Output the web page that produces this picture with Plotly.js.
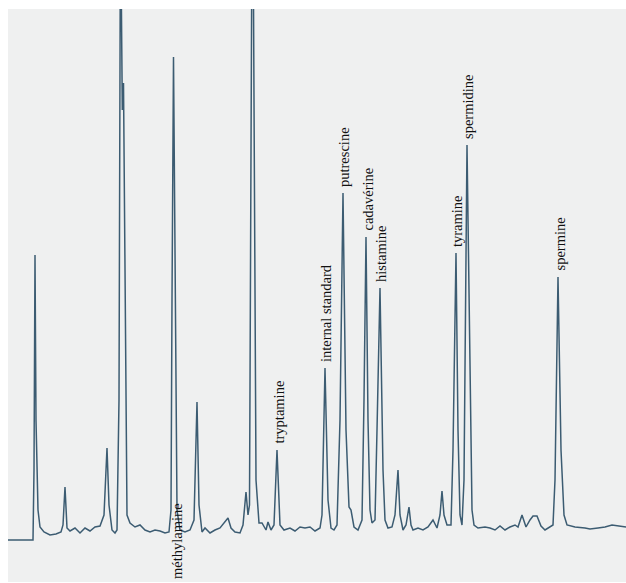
<!DOCTYPE html>
<html>
<head>
<meta charset="utf-8">
<script src="https://cdn.plot.ly/plotly-3.0.1.min.js"></script>
<style>
  html, body { margin: 0; padding: 0; background: #ffffff; }
  #chart { width: 626px; height: 583px; }
</style>
</head>
<body>
<div id="chart"></div>
<script>
// Retention time (min)
const time = [
  0.0, 2.5, 2.6, 2.7, 2.8, 3.0, 3.2, 3.6, 4.2, 4.8, 5.3, 5.5, 5.7, 5.9, 6.2, 6.7, 7.2, 7.7, 8.2, 8.7,
  9.2, 9.6, 9.9, 10.1, 10.4, 10.7, 10.9, 11.1, 11.25, 11.43, 11.55, 11.75, 11.9, 12.2, 12.7, 13.2, 13.7,
  14.2, 14.7, 15.2, 15.7, 16.1, 16.3, 16.4, 16.55, 16.7, 16.9, 17.2, 17.7, 18.2, 18.6, 18.9, 19.1, 19.4,
  19.7, 20.2, 20.7, 21.2, 21.7, 22.0, 22.3, 22.7, 23.2, 23.5, 23.8, 24.0, 24.15, 24.3, 24.45, 24.6, 24.8,
  25.1, 25.4, 25.8, 26.0, 26.3, 26.6, 26.9, 27.2, 27.6, 28.2, 28.7, 29.2, 29.7, 30.2, 30.7, 31.2, 31.4,
  31.7, 32.0, 32.3, 32.6, 32.9, 33.2, 33.5, 33.8, 34.1, 34.3, 34.6, 35.0, 35.4, 35.6, 35.8, 36.0, 36.2,
  36.4, 36.7, 36.9, 37.2, 37.5, 37.7, 38.0, 38.4, 38.7, 39.0, 39.2, 39.5, 39.8, 40.1, 40.3, 40.5, 41.0,
  41.5, 42.0, 42.5, 42.9, 43.2, 43.4, 43.6, 43.9, 44.3, 44.5, 44.8, 45.0, 45.2, 45.4, 45.6, 45.9, 46.2,
  46.4, 46.6, 47.0, 47.7, 48.2, 48.7, 49.2, 49.7, 50.2, 50.7, 51.0, 51.4, 51.8, 52.2, 52.5, 52.9, 53.3,
  53.7, 54.2, 54.5, 54.7, 55.0, 55.3, 55.6, 55.9, 56.7, 57.7, 58.2, 59.0, 59.7, 60.4, 61.0, 61.8
];
// Detector signal (arbitrary units)
const signal = [
  0, 0, 70, 285, 120, 30, 13, 8, 5, 6, 8, 15, 53, 12, 9, 12, 7, 12, 9, 13,
  14, 25, 92, 35, 10, 7, 10, 140, 640, 430, 457, 190, 25, 17, 13, 15, 10,
  8, 10, 9, 7, 8, 30, 240, 483, 290, 30, 10, 8, 10, 20, 138, 35, 8,
  12, 7, 10, 12, 18, 22, 12, 8, 7, 15, 48, 25, 35, 340, 740, 440, 60,
  17, 17, 10, 18, 10, 15, 90, 15, 10, 12, 9, 13, 12, 13, 9, 12, 25,
  172, 40, 12, 10, 15, 120, 347, 110, 33, 30, 13, 10, 20, 140, 303, 120, 30,
  17, 20, 110, 252, 70, 20, 12, 13, 25, 70, 25, 10, 15, 33, 15, 10, 12,
  10, 13, 20, 12, 25, 49, 25, 15, 15, 90, 287, 110, 25, 15, 60, 395, 140,
  30, 15, 12, 13, 12, 10, 14, 10, 13, 15, 13, 25, 13, 20, 24, 24, 14,
  10, 13, 15, 60, 263, 90, 25, 15, 13, 12, 11, 12, 13, 15, 14, 13
];

// Peak labels
const peakNames = ["tryptamine", "internal standard", "putrescine", "cadavérine", "histamine",
                   "tyramine", "spermidine", "spermine"];
const peakTimes = [26.9, 31.7, 33.5, 35.8, 37.2, 44.8, 45.9, 55.0];
const peakHeights = [90, 172, 347, 303, 252, 287, 395, 263];
// Label written below the baseline
const baseLabelName = "méthylamine";
const baseLabelTime = 16.9;
const baseLabelSignal = -1;

const labelFont = { family: "Liberation Serif, Times New Roman, serif", size: 14.5, color: "#111111" };

const annotations = peakNames.map((name, i) => ({
  x: peakTimes[i], y: peakHeights[i], xref: "x", yref: "y",
  text: name, showarrow: false, textangle: -90,
  xanchor: "center", yanchor: "bottom", yshift: 4, xshift: 1,
  font: labelFont
}));
annotations.push({
  x: baseLabelTime, y: baseLabelSignal, xref: "x", yref: "y",
  text: baseLabelName, showarrow: false, textangle: -90,
  xanchor: "center", yanchor: "middle",
  font: labelFont
});

const trace = {
  x: time, y: signal, type: "scatter", mode: "lines",
  line: { color: "#3c5c72", width: 1.5 },
  hoverinfo: "skip"
};

const layout = {
  width: 626, height: 583,
  margin: { l: 8, r: 0, t: 9, b: 1 },
  paper_bgcolor: "#ffffff",
  plot_bgcolor: "#eff0f0",
  showlegend: false,
  xaxis: { range: [0, 61.8], visible: false, fixedrange: true },
  yaxis: { range: [-42, 531], visible: false, fixedrange: true },
  annotations: annotations
};

Plotly.newPlot("chart", [trace], layout, { displayModeBar: false, staticPlot: true });
</script>
</body>
</html>
